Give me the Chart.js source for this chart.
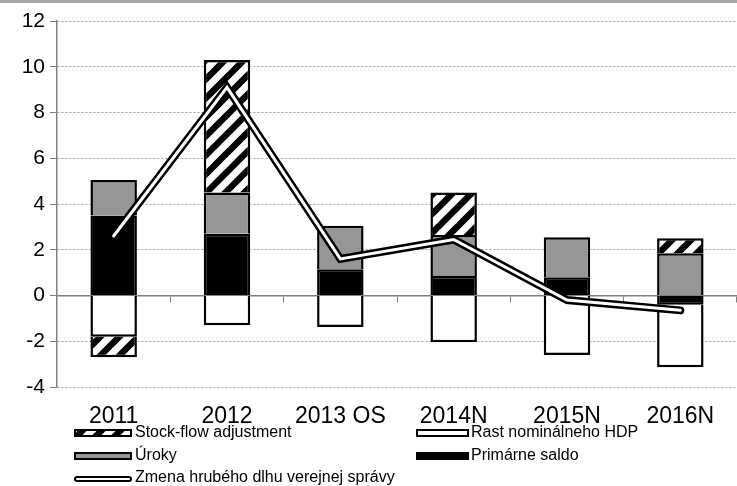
<!DOCTYPE html>
<html><head><meta charset="utf-8">
<script src="https://cdn.jsdelivr.net/npm/chart.js@4.4.1/dist/chart.umd.min.js"></script>
<style>
html,body{margin:0;padding:0;background:#fff;}
#wrap{position:relative;width:737px;height:486px;}
#band{position:absolute;left:0;top:0;width:737px;height:3px;background:#a6a6a6;}
canvas{display:block;}
</style></head><body>
<div id="wrap"><canvas id="c" width="737" height="486"></canvas><div id="band"></div></div>
<script>
const categories = ['2011', '2012', '2013 OS', '2014N', '2015N', '2016N'];
const primarneSaldo = [3.5, 2.7, 1.15, 0.85, 0.8, -0.4];
const uroky = [1.55, 1.8, 1.9, 1.8, 1.75, 1.85];
const rastHDP = [-1.8, -1.3, -1.38, -2.04, -2.6, -2.74];
const stockFlow = [-0.9, 5.8, null, 1.85, null, 0.65];
const zmenaDlhu = [2.6, 9.1, 1.6, 2.45, -0.2, -0.65];
const yMin = -4, yMax = 12, yStep = 2;

const canvas = document.getElementById('c');
const ctx = canvas.getContext('2d');

function makeHatch() {
  const P = 19, c = document.createElement('canvas');
  c.width = P; c.height = P;
  const g = c.getContext('2d');
  g.fillStyle = '#fff'; g.fillRect(0, 0, P, P);
  g.strokeStyle = '#000'; g.lineWidth = 6.5;
  for (const x0 of [-P, 0, P]) {
    g.beginPath(); g.moveTo(x0 - 3, P + 3); g.lineTo(x0 + P + 3, -3); g.stroke();
  }
  return ctx.createPattern(c, 'repeat');
}
const hatch = makeHatch();

const FONT = '"Liberation Sans", Arial, sans-serif';

const legendItems = [
  { ds: 3, col: 0, row: 0 },
  { ds: 2, col: 1, row: 0 },
  { ds: 1, col: 0, row: 1 },
  { ds: 0, col: 1, row: 1 },
  { ds: 4, col: 0, row: 2, line: true }
];
const legendPlugin = {
  id: 'customLegend',
  afterDraw(chart) {
    const c = chart.ctx;
    const swX = [75, 417], swW = [56, 51], txX = [135, 471], rowY = [432.5, 455.5, 478];
    c.save();
    for (const it of legendItems) {
      const ds = chart.data.datasets[it.ds];
      const x = swX[it.col], w = swW[it.col], y = rowY[it.row];
      if (it.line) {
        c.lineCap = 'round';
        c.strokeStyle = '#000'; c.lineWidth = 6;
        c.beginPath(); c.moveTo(x + 2, y + 1); c.lineTo(x + w - 2, y + 1); c.stroke();
        c.strokeStyle = '#fff'; c.lineWidth = 2;
        c.beginPath(); c.moveTo(x + 2, y + 1); c.lineTo(x + w - 2, y + 1); c.stroke();
      } else {
        c.fillStyle = ds.backgroundColor;
        c.fillRect(x, y - 2.5, w, 6);
        c.strokeStyle = '#000'; c.lineWidth = 2;
        c.strokeRect(x, y - 2.5, w, 6);
      }
      c.fillStyle = '#000';
      c.font = '16px ' + FONT;
      c.textBaseline = 'middle';
      c.textAlign = 'left';
      c.fillText(ds.label, txX[it.col], y);
    }
    c.restore();
  }
};

const barCommon = { borderColor: '#000', borderWidth: 2.5, borderSkipped: 'start', stack: 'bars', order: 1, barPercentage: 0.41, categoryPercentage: 1, xAxisID: 'x', yAxisID: 'y' };

new Chart(ctx, {
  type: 'bar',
  data: {
    labels: categories,
    datasets: [
      Object.assign({ label: 'Primárne saldo', data: primarneSaldo, backgroundColor: '#000' }, barCommon),
      Object.assign({ label: 'Úroky', data: uroky, backgroundColor: '#969696' }, barCommon),
      Object.assign({ label: 'Rast nominálneho HDP', data: rastHDP, backgroundColor: '#fff' }, barCommon),
      Object.assign({ label: 'Stock-flow adjustment', data: stockFlow, backgroundColor: hatch }, barCommon),
      { type: 'line', label: 'Zmena hrubého dlhu verejnej správy', data: zmenaDlhu, borderColor: '#000', borderWidth: 8,
        pointRadius: 0, pointHoverRadius: 0, stack: 'line1', order: 0, borderCapStyle: 'round', borderJoinStyle: 'miter',
        tension: 0, fill: false, xAxisID: 'x', yAxisID: 'y' },
      { type: 'line', label: 'Zmena (inner)', data: zmenaDlhu, borderColor: '#fff', borderWidth: 3,
        pointRadius: 0, pointHoverRadius: 0, stack: 'line2', order: -1, borderCapStyle: 'round', borderJoinStyle: 'miter',
        tension: 0, fill: false, xAxisID: 'x', yAxisID: 'y' }
    ]
  },
  options: {
    responsive: false,
    animation: false,
    layout: { padding: { top: 21, left: 0, right: 0, bottom: 0 } },
    plugins: { legend: { display: false }, tooltip: { enabled: false } },
    scales: {
      x: {
        type: 'category', offset: true, stacked: true,
        grid: { display: false, drawTicks: false, offset: true },
        border: { display: false },
        ticks: { font: { family: FONT, size: 23 }, color: '#000', padding: 16, maxRotation: 0, autoSkip: false },
        afterFit: s => { s.height = 99; }
      },
      x0: {
        type: 'category', labels: categories, position: { y: 0 }, offset: true,
        grid: { offset: true, drawOnChartArea: false, drawTicks: true, tickLength: 6, color: '#808080', lineWidth: 1 },
        border: { display: true, color: '#808080', width: 1.5 },
        ticks: { display: false }
      },
      y: {
        type: 'linear', stacked: true, min: yMin, max: yMax,
        ticks: { stepSize: yStep, font: { family: FONT, size: 21 }, color: '#000', padding: 5 },
        grid: { color: '#a0a0a0', tickColor: '#808080', tickLength: 7, lineWidth: 1 },
        border: { display: true, color: '#808080', width: 1.5, dash: [2, 2] },
        afterFit: s => { s.width = 57; }
      }
    }
  },
  plugins: [legendPlugin]
});
</script>
</body></html>
